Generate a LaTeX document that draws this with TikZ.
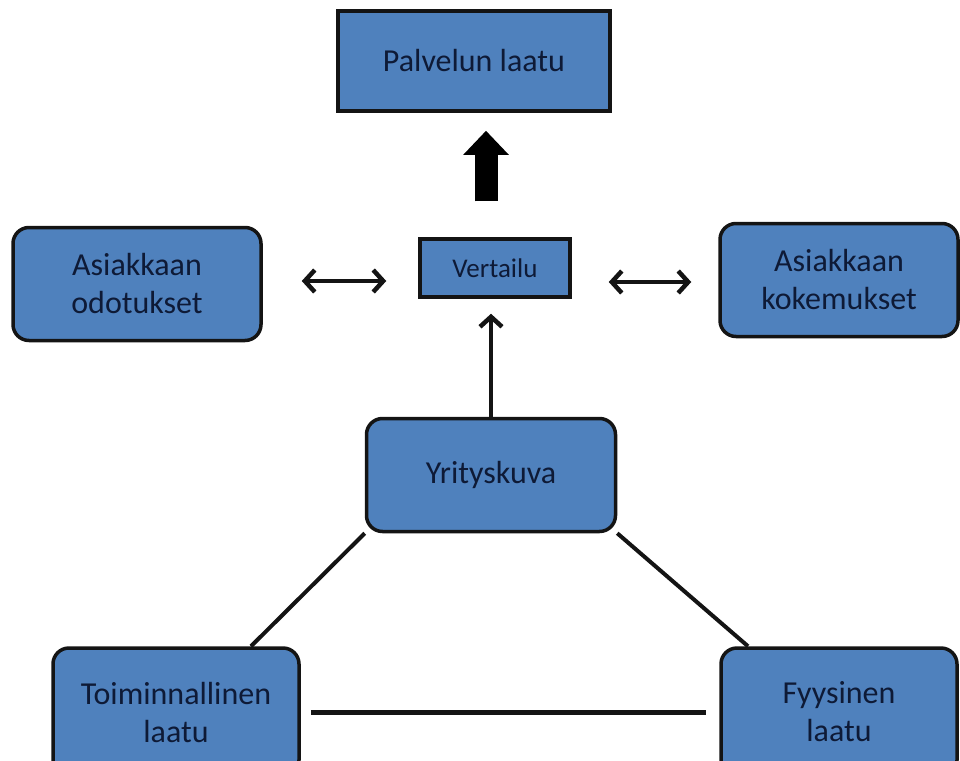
\documentclass[tikz,border=0pt]{standalone}
\usepackage{fontspec}
\setmainfont{Carlito}
\usetikzlibrary{arrows.meta,calc}
\usepackage{xcolor}
\definecolor{boxblue}{HTML}{4F81BD}
\definecolor{ink}{HTML}{0E1A36}
\definecolor{dark}{HTML}{141414}
\tikzset{
  box/.style={draw=dark, line width=3.5pt, fill=boxblue, text=ink, align=center, inner sep=0pt, font=\fontsize{32}{38}\selectfont},
  roundbox/.style={box, rounded corners=16pt},
  link/.style={draw=dark, line width=4pt},
  arrow/.style={-{Straight Barb[length=10pt,width=22pt]}, line width=4.5pt, draw=dark},
  dblarrow/.style={{Straight Barb[length=10pt,width=22pt]}-{Straight Barb[length=10pt,width=22pt]}, line width=4.5pt, draw=dark},
  bigarrow/.style={-{Triangle[length=24pt,width=44pt]}, line width=23pt, draw=black}
}
\begin{document}
\begin{tikzpicture}[x=1pt, y=-1pt]
  \useasboundingbox (0,0) rectangle (960,760);
  \node[box, minimum width=272pt, minimum height=100pt] (pl) at (474,61) {Palvelun laatu};
  \node[box, minimum width=150pt, minimum height=58pt, font=\fontsize{27}{32}\selectfont] (vert) at (495,268) {Vertailu};
  \node[roundbox, minimum width=248pt, minimum height=113pt] (odot) at (137,284) {Asiakkaan\\odotukset};
  \node[roundbox, minimum width=238pt, minimum height=113pt] (kok) at (839,280) {Asiakkaan\\kokemukset};
  \node[roundbox, minimum width=249pt, minimum height=113pt] (yk) at (491,475) {Yrityskuva};
  \node[roundbox, minimum width=246pt, minimum height=128pt] (toim) at (176,712) {Toiminnallinen\\laatu};
  \node[roundbox, minimum width=236pt, minimum height=128pt] (fyy) at (839,712) {Fyysinen\\laatu};
  \draw[bigarrow, shorten <=36pt, shorten >=18pt] (vert.north -| 486,0) -- (pl.south -| 486,0);
  \draw[dblarrow, shorten <=39pt, shorten >=32pt] (odot.east |- 0,281) -- (vert.west |- 0,281);
  \draw[dblarrow, shorten <=37pt, shorten >=27pt] (vert.east |- 0,282) -- (kok.west |- 0,282);
  \draw[arrow, shorten >=15pt] (yk.north) -- (vert.south -| yk.north);
  \draw[link] (yk.south west) -- ([xshift=75pt]toim.north);
  \draw[link] (yk.south east) -- ([xshift=-91pt]fyy.north);
  \draw[link, line width=5pt, shorten <=10pt, shorten >=13pt] (toim.east) -- (fyy.west);
\end{tikzpicture}
\end{document}
